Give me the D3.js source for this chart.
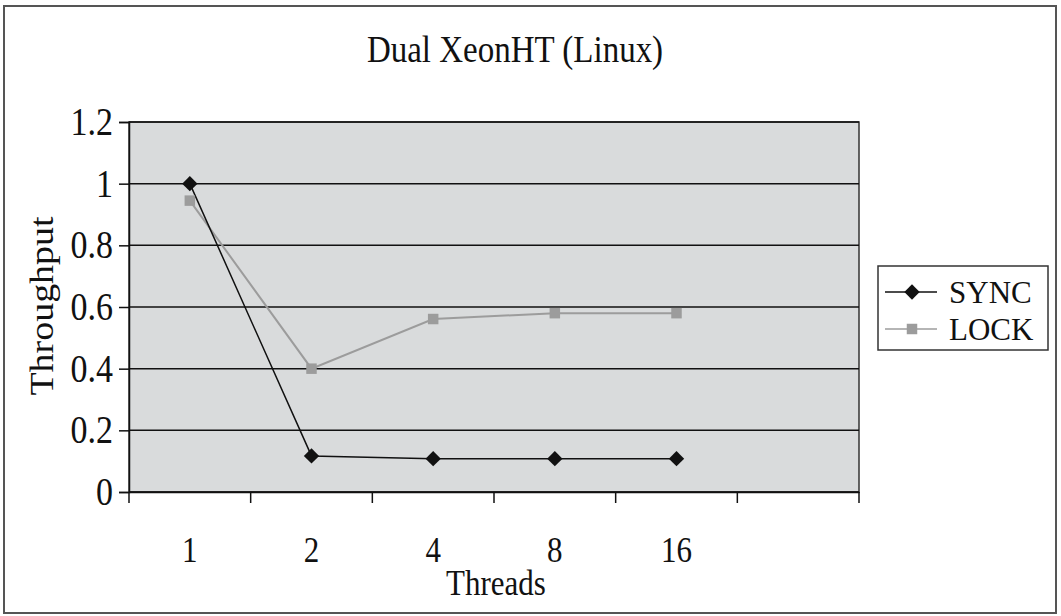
<!DOCTYPE html>
<html><head><meta charset="utf-8">
<script src="https://cdn.jsdelivr.net/npm/d3@7"></script>
<style>body{margin:0;background:#fff}svg{display:block}text{font-family:"Liberation Serif","Times New Roman",serif;fill:#111}</style>
</head><body><svg id="c" width="1061" height="616"></svg>
<script>
const title = "Dual XeonHT (Linux)";
const categories = ["1","2","4","8","16",""];
const syncValues = [1.0, 0.117, 0.108, 0.108, 0.108];
const lockValues = [0.945, 0.40, 0.561, 0.58, 0.58];
const yTicks = [0, 0.2, 0.4, 0.6, 0.8, 1, 1.2];
const seriesNames = ["SYNC", "LOCK"];

const svg = d3.select("#c");
const W = 1061, H = 616;
const m = {l:129, r:859, t:122, b:492};
const SY = 1.15; // vertical stretch of text as in the reference

svg.append("rect").attr("x",4).attr("y",6).attr("width",W-9).attr("height",H-9)
  .attr("fill","#fff").attr("stroke","#555").attr("stroke-width",2);

const x = d3.scaleBand().domain(categories.map((c,i)=>i)).range([m.l,m.r]);
const y = d3.scaleLinear().domain([0,1.2]).range([m.b,m.t]);

svg.append("rect").attr("x",m.l).attr("y",m.t).attr("width",m.r-m.l).attr("height",m.b-m.t)
  .attr("fill","#d9dbdc").attr("stroke","#333").attr("stroke-width",1.5);

// gridlines
svg.append("g").selectAll("line").data(yTicks).join("line")
  .attr("x1",m.l).attr("x2",m.r).attr("y1",d=>y(d)).attr("y2",d=>y(d))
  .attr("stroke","#111").attr("stroke-width",1.5);

// y axis
const ya = svg.append("g").attr("transform",`translate(${m.l},0)`)
  .call(d3.axisLeft(y).tickValues(yTicks).tickFormat(d=>d3.format("~g")(d)).tickSize(10).tickPadding(6));
ya.select(".domain").attr("stroke","#111").attr("stroke-width",1.5);
ya.selectAll(".tick line").attr("stroke","#111").attr("stroke-width",1.5);
ya.selectAll(".tick text").remove();
svg.append("g").selectAll("text").data(yTicks).join("text")
  .attr("transform",d=>`translate(113,${y(d)+13}) scale(1,${SY})`)
  .attr("text-anchor","end").attr("font-size",34).text(d=>d3.format("~g")(d));

// x axis
const xa = svg.append("g").attr("transform",`translate(0,${m.b})`)
  .call(d3.axisBottom(x).tickFormat("").tickSize(0));
xa.select(".domain").attr("stroke","#111").attr("stroke-width",1.5);
xa.selectAll(".tick text").remove();
const cx = i => x(i) + x.bandwidth()/2;
svg.append("g").selectAll("text").data(categories).join("text")
  .attr("transform",(d,i)=>`translate(${cx(i)},562) scale(1,${SY})`)
  .attr("text-anchor","middle").attr("font-size",31).text(d=>d);
// band boundary ticks
const bounds = categories.map((c,i)=>x(i)).concat([m.r]);
svg.append("g").selectAll("line").data(bounds).join("line")
  .attr("x1",d=>d).attr("x2",d=>d).attr("y1",m.b).attr("y2",m.b+11)
  .attr("stroke","#111").attr("stroke-width",1.5);

const line = d3.line().x((d,i)=>cx(i)).y(d=>y(d));
svg.append("path").datum(lockValues).attr("d",line).attr("fill","none").attr("stroke","#9c9c9c").attr("stroke-width",2);
svg.append("path").datum(syncValues).attr("d",line).attr("fill","none").attr("stroke","#111").attr("stroke-width",1.5);

const diamond = d3.symbol().type(d3.symbolDiamond2).size(150);
const square = d3.symbol().type(d3.symbolSquare).size(110);
svg.append("g").selectAll("path").data(lockValues).join("path")
  .attr("d",square).attr("transform",(d,i)=>`translate(${cx(i)},${y(d)})`).attr("fill","#9c9c9c");
svg.append("g").selectAll("path").data(syncValues).join("path")
  .attr("d",diamond).attr("transform",(d,i)=>`translate(${cx(i)},${y(d)})`).attr("fill","#111");

// title & axis titles
svg.append("text").attr("transform",`translate(515,62) scale(1,${SY})`).attr("text-anchor","middle").attr("font-size",33).text(title);
svg.append("text").attr("transform",`translate(496,595) scale(1,${SY})`).attr("text-anchor","middle").attr("font-size",31).text("Threads");
svg.append("text").attr("transform",`translate(53,306) scale(1,${SY}) rotate(-90)`).attr("text-anchor","middle").attr("font-size",33).text("Throughput");

// legend
const lg = svg.append("g");
lg.append("rect").attr("x",878).attr("y",266).attr("width",170).attr("height",84)
  .attr("fill","#fff").attr("stroke","#333").attr("stroke-width",1.5);
const rows = [{n:seriesNames[0], c:"#111", s:diamond, y:292},{n:seriesNames[1], c:"#9c9c9c", s:square, y:329}];
rows.forEach(r=>{
  lg.append("line").attr("x1",885).attr("x2",937).attr("y1",r.y).attr("y2",r.y).attr("stroke",r.c).attr("stroke-width",1.5);
  lg.append("path").attr("d",r.s).attr("transform",`translate(912,${r.y})`).attr("fill",r.c);
  lg.append("text").attr("x",949).attr("y",r.y+11).attr("font-size",31).text(r.n);
});
</script></body></html>
